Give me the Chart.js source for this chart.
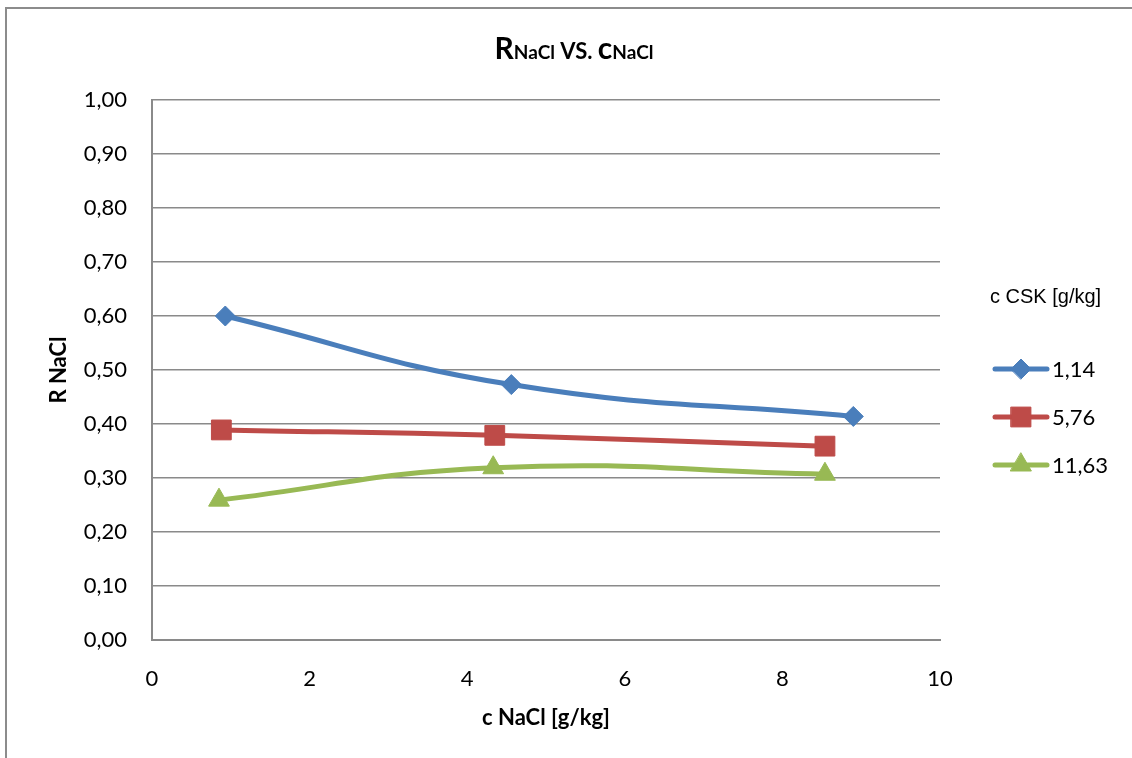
<!DOCTYPE html>
<html>
<head>
<meta charset="utf-8">
<script src="https://cdn.jsdelivr.net/npm/chart.js"></script>
<style>
html, body { margin: 0; padding: 0; background: #fff; overflow: hidden; }
#frame { position: absolute; left: 5px; top: 7px; width: 1140px; height: 760px;
         border-left: 2px solid #8c8c8c; border-top: 2px solid #8c8c8c; }
#wrap { position: absolute; left: 0; top: 0; width: 1132px; height: 758px; }
</style>
</head>
<body>
<div id="frame"></div>
<div id="wrap"><canvas id="chart" width="1132" height="758"></canvas></div>
<script>
// values
const seriesLabels = ['1,14', '5,76', '11,63'];
const cNaCl_114 = [0.93, 4.56, 8.90];
const rNaCl_114 = [0.600, 0.473, 0.414];
const cNaCl_576 = [0.88, 4.35, 8.54];
const rNaCl_576 = [0.389, 0.379, 0.359];
const cNaCl_1163 = [0.85, 4.33, 8.54];
const rNaCl_1163 = [0.259, 0.319, 0.307];
const seriesColors = ['#4a7ebb', '#be4b48', '#98b954'];
const pointStyles = ['rectRot', 'rect', 'triangle'];
const pointSizes = [10, 14, 12];

const xs = [cNaCl_114, cNaCl_576, cNaCl_1163];
const ys = [rNaCl_114, rNaCl_576, rNaCl_1163];

const calibriLike = 'Lato, "Open Sans", sans-serif';

const datasets = seriesLabels.map((lab, i) => ({
    label: lab,
    data: xs[i].map((x, j) => ({ x: x, y: ys[i][j] })),
    borderColor: seriesColors[i],
    backgroundColor: seriesColors[i],
    borderWidth: 5,
    tension: 0.45,
    pointStyle: pointStyles[i],
    pointRadius: pointSizes[i],
    pointBorderWidth: 1,
    pointBorderColor: seriesColors[i],
    pointBackgroundColor: seriesColors[i]
}));

// title with smaller "NaCl" parts
const titlePlugin = {
    id: 'mixedTitle',
    afterDraw(chart) {
        const ctx = chart.ctx;
        const parts = [
            ['R', 30], ['NaCl', 19], [' VS. ', 22], ['c', 30], ['NaCl', 19]
        ];
        ctx.save();
        let total = 0;
        parts.forEach(p => {
            ctx.font = 'bold ' + p[1] + 'px ' + calibriLike;
            total += ctx.measureText(p[0]).width;
        });
        let x = 574 - total / 2;
        ctx.fillStyle = '#000';
        ctx.textBaseline = 'alphabetic';
        parts.forEach(p => {
            ctx.font = 'bold ' + p[1] + 'px ' + calibriLike;
            ctx.fillText(p[0], x, 59);
            x += ctx.measureText(p[0]).width;
        });
        ctx.restore();
    }
};

// legend on the right: line + marker + label
const legendPlugin = {
    id: 'sideLegend',
    afterDraw(chart) {
        const ctx = chart.ctx;
        ctx.save();
        ctx.fillStyle = '#000';
        ctx.textBaseline = 'middle';
        ctx.textAlign = 'left';
        ctx.font = '20px "Liberation Sans", Arial, sans-serif';
        ctx.fillText('c CSK [g/kg]', 990, 297);
        chart.data.datasets.forEach((ds, i) => {
            const y = 369 + i * 48;
            ctx.strokeStyle = ds.borderColor;
            ctx.lineWidth = 5;
            ctx.lineCap = 'round';
            ctx.beginPath();
            ctx.moveTo(995, y);
            ctx.lineTo(1047, y);
            ctx.stroke();
            ctx.fillStyle = ds.backgroundColor;
            ctx.lineWidth = 1;
            Chart.helpers.drawPoint(ctx, {
                pointStyle: ds.pointStyle, radius: ds.pointRadius, borderWidth: 1, rotation: 0
            }, 1021, y);
            ctx.fillStyle = '#000';
            ctx.font = '22px ' + calibriLike;
            ctx.fillText(ds.label, 1052, y + 1);
        });
        ctx.restore();
    }
};

const chr = document.getElementById('chart').getContext('2d');
const myChart = new Chart(chr, {
    type: 'line',
    data: { datasets: datasets },
    plugins: [titlePlugin, legendPlugin],
    options: {
        responsive: false,
        animation: false,
        devicePixelRatio: 1,
        layout: { padding: { left: 38, right: 192, top: 100, bottom: 20 } },
        plugins: {
            legend: { display: false },
            title: { display: false },
            tooltip: { enabled: false }
        },
        scales: {
            x: {
                type: 'linear',
                min: 0,
                max: 10,
                afterFit(scale) { scale.height = 98; },
                grid: { display: false, drawTicks: false },
                border: { display: true, color: '#8a8a8a', width: 2 },
                ticks: {
                    stepSize: 2,
                    padding: 26,
                    color: '#000',
                    font: { family: calibriLike, size: 22 }
                },
                title: {
                    display: true,
                    text: 'c NaCl [g/kg]',
                    color: '#000',
                    padding: { top: 0, bottom: 7 },
                    font: { family: calibriLike, size: 22, weight: 'bold' }
                }
            },
            y: {
                min: 0,
                max: 1,
                afterFit(scale) { scale.width = 114; },
                grid: { color: '#8a8a8a', lineWidth: 1.5, drawTicks: false },
                border: { display: true, color: '#8a8a8a', width: 2 },
                ticks: {
                    stepSize: 0.1,
                    padding: 25,
                    color: '#000',
                    font: { family: calibriLike, size: 22 },
                    callback: v => v.toFixed(2).replace('.', ',')
                },
                title: {
                    display: true,
                    text: 'R NaCl',
                    color: '#000',
                    padding: { top: 8, bottom: 0 },
                    font: { family: calibriLike, size: 22, weight: 'bold' }
                }
            }
        }
    }
});
</script>
</body>
</html>
